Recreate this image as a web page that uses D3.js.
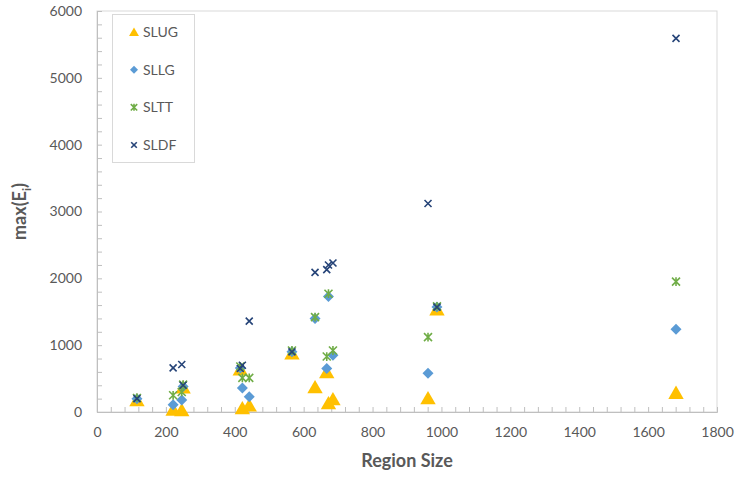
<!DOCTYPE html>
<html><head><meta charset="utf-8">
<script src="https://cdn.jsdelivr.net/npm/d3@7"></script>
<style>
html,body{margin:0;padding:0;background:#fff;}
svg{display:block;font-family:Lato,"Open Sans",sans-serif;}
</style></head>
<body>
<svg id="c" width="737" height="477"></svg>
<script>
const regionSize = [116, 221, 246, 250, 416, 422, 442, 566, 633, 667, 672, 685, 961, 987, 1681];
const slug = [180, 40, 30, 370, 640, 60, 100, 880, 375, 600, 135, 195, 210, 1540, 290];
const sllg = [200, 110, 180, 380, 660, 360, 230, 900, 1400, 650, 1730, 850, 580, 1570, 1240];
const sltt = [210, 250, 300, 410, 680, 510, 510, 920, 1420, 830, 1770, 920, 1120, 1580, 1950];
const sldf = [200, 660, 710, 400, 650, 700, 1360, 900, 2090, 2130, 2200, 2230, 3120, 1570, 5590];
const seriesNames = ["SLUG", "SLLG", "SLTT", "SLDF"];
const xTicks = [0, 200, 400, 600, 800, 1000, 1200, 1400, 1600, 1800];
const yTicks = [0, 1000, 2000, 3000, 4000, 5000, 6000];

const series = [
  {name: seriesNames[0], values: slug, color: "#FFC000", shape: "tri"},
  {name: seriesNames[1], values: sllg, color: "#5B9BD5", shape: "dia"},
  {name: seriesNames[2], values: sltt, color: "#70AD47", shape: "star"},
  {name: seriesNames[3], values: sldf, color: "#264478", shape: "x"}
];

const svg = d3.select("#c");
const L = 97, R = 717, T = 11, B = 412;
const x = d3.scaleLinear().domain([0, 1800]).range([L, R]);
const y = d3.scaleLinear().domain([0, 6000]).range([B, T]);

svg.append("rect").attr("x", L).attr("y", T).attr("width", R - L).attr("height", B - T)
  .attr("fill", "none").attr("stroke", "#D9D9D9").attr("stroke-width", 1);

const gx = svg.append("g").attr("transform", `translate(0,${B})`)
  .call(d3.axisBottom(x).tickValues(d3.range(0, 1801, 40)).tickSize(-5).tickPadding(15)
    .tickFormat(d => xTicks.includes(d) ? d : ""));
const gy = svg.append("g").attr("transform", `translate(${L},0)`)
  .call(d3.axisLeft(y).tickValues(d3.range(0, 6001, 200)).tickSize(-5).tickPadding(15)
    .tickFormat(d => yTicks.includes(d) ? d : ""));
[gx, gy].forEach(g => {
  g.select(".domain").attr("stroke", "#BFBFBF");
  g.selectAll(".tick line").attr("stroke", "#BFBFBF");
  g.selectAll(".tick text").attr("fill", "#595959").style("font-size", "14px")
    .style("font-family", "Lato, 'Open Sans', sans-serif");
});

function markerPath(shape, s) {
  const p = d3.path();
  if (shape === "tri") {
    p.moveTo(0, -s * 0.5); p.lineTo(s * 0.55, s * 0.45); p.lineTo(-s * 0.55, s * 0.45); p.closePath();
  } else if (shape === "dia") {
    p.moveTo(0, -s * 0.5); p.lineTo(s * 0.5, 0); p.lineTo(0, s * 0.5); p.lineTo(-s * 0.5, 0); p.closePath();
  } else if (shape === "star") {
    const h = s * 0.4;
    p.moveTo(-h, -h); p.lineTo(h, h); p.moveTo(h, -h); p.lineTo(-h, h);
    p.moveTo(0, -h * 1.1); p.lineTo(0, h * 1.1);
  } else {
    const h = s * 0.35;
    p.moveTo(-h, -h); p.lineTo(h, h); p.moveTo(h, -h); p.lineTo(-h, h);
  }
  return p.toString();
}
const sizes = {tri: 14, dia: 11, star: 10, x: 10};
function styleMark(sel, sr) {
  if (sr.shape === "tri" || sr.shape === "dia") sel.attr("fill", sr.color).attr("stroke", "none");
  else sel.attr("fill", "none").attr("stroke", sr.color).attr("stroke-width", 1.6);
}

series.forEach(sr => {
  const g = svg.append("g");
  g.selectAll("path").data(regionSize.map((r, i) => [r, sr.values[i]])).join("path")
    .attr("d", markerPath(sr.shape, sizes[sr.shape]))
    .attr("transform", d => `translate(${x(d[0])},${y(d[1])})`)
    .call(styleMark, sr);
});

const lg = svg.append("g");
lg.append("rect").attr("x", 112.5).attr("y", 14.5).attr("width", 82).attr("height", 148)
  .attr("fill", "#fff").attr("stroke", "#D9D9D9");
const legY = d3.scalePoint().domain(seriesNames).range([32, 145]);
series.forEach(sr => {
  const gy0 = legY(sr.name);
  lg.append("path").attr("d", markerPath(sr.shape, sr.shape === "tri" ? 9 : 8))
    .attr("transform", `translate(134,${gy0})`).call(styleMark, sr);
  lg.append("text").attr("x", 143).attr("y", gy0).attr("dy", "0.35em")
    .attr("fill", "#595959").style("font-size", "14px").text(sr.name);
});

svg.append("text").attr("x", (L + R) / 2).attr("y", 467).attr("text-anchor", "middle")
  .attr("fill", "#595959").style("font-size", "18px").style("font-weight", "bold").text("Region Size");
const yt = svg.append("text").attr("transform", `translate(26,${(T + B) / 2}) rotate(-90)`)
  .attr("text-anchor", "middle").attr("fill", "#595959").style("font-size", "18px").style("font-weight", "bold");
yt.append("tspan").text("max(E");
yt.append("tspan").attr("dy", "5").style("font-size", "12px").text("i");
yt.append("tspan").attr("dy", "-5").text(")");
</script>
</body></html>
